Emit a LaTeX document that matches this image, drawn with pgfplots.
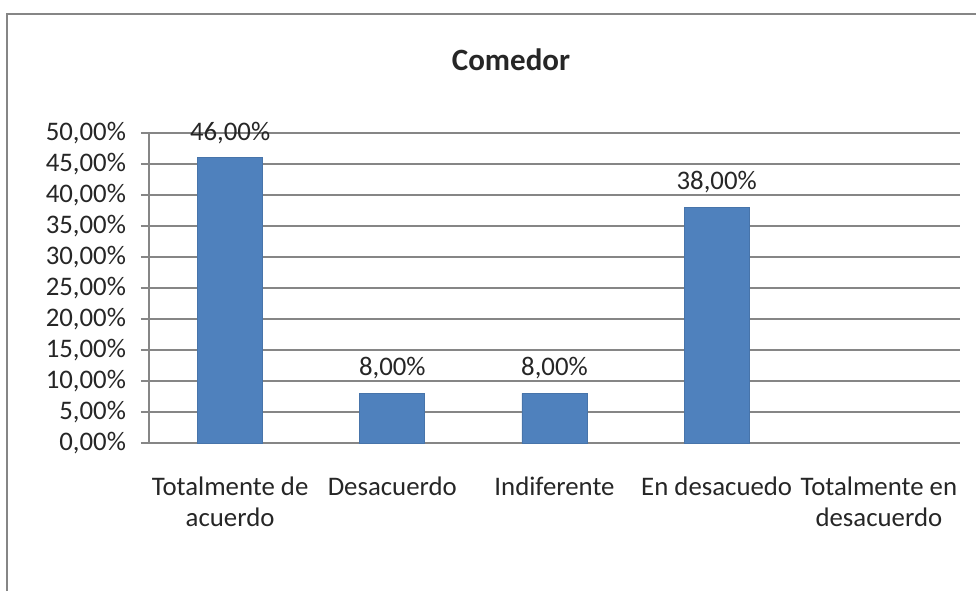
\documentclass[border=0pt]{standalone}
\usepackage{fontspec}
\setmainfont{Carlito}
\usepackage{pgfplots}
\pgfplotsset{compat=1.18}
\definecolor{barblue}{HTML}{4F81BD}
\definecolor{gridgray}{HTML}{868686}
\begin{document}
\begin{tikzpicture}
\useasboundingbox (0,0) rectangle (488pt,-295.5pt);
\draw[gridgray, line width=1pt] (3.5pt,-295.5pt) -- (3.5pt,-7pt) -- (488pt,-7pt);
\node[font=\fontsize{15.5}{18}\selectfont\bfseries, text=black!85] at (255.5pt,-30pt) {Comedor};
\begin{axis}[
  at={(74.5pt,-221.5pt)}, anchor=south west,
  scale only axis, width=405.5pt, height=155pt,
  xmin=-0.5, xmax=4.5, ymin=0, ymax=50,
  axis lines*=left,
  axis line style={gridgray, line width=0.6pt},
  ymajorgrids, grid style={gridgray, line width=0.6pt},
  ytick={0,5,...,50},
  /pgf/number format/assume math mode=true,
  yticklabel={\pgfmathprintnumber[fixed,fixed zerofill,precision=2,use comma]{\tick}\%},
  xtick={0,1,2,3,4},
  xticklabels={Totalmente de\\acuerdo, Desacuerdo, Indiferente, En desacuedo, Totalmente en\\desacuerdo},
  xticklabel style={align=center, font=\fontsize{13.4}{15.5}\selectfont, yshift=-9.5pt, text=black!85},
  yticklabel style={font=\fontsize{13.4}{15.5}\selectfont, xshift=-4pt, text=black!85},
  major x tick style={draw=none},
  extra x ticks={-0.5,0.5,1.5,2.5,3.5,4.5},
  extra x tick labels={},
  extra x tick style={grid=none, major tick length=4pt, tick style={draw=gridgray, line width=0.6pt}, tick align=outside},
  ytick style={draw=gridgray, line width=0.6pt},
  tick align=outside, major tick length=4pt,
  ybar, bar width=32.5pt,
  nodes near coords={\pgfmathprintnumber[fixed,fixed zerofill,precision=2,use comma]{\pgfplotspointmeta}\%},
  nodes near coords style={font=\fontsize{13.4}{15.5}\selectfont, yshift=3.5pt, text=black!85},
]
\addplot[fill=barblue, draw=barblue!90!black] coordinates {(0,46) (1,8) (2,8) (3,38)};
\end{axis}
\end{tikzpicture}
\end{document}
